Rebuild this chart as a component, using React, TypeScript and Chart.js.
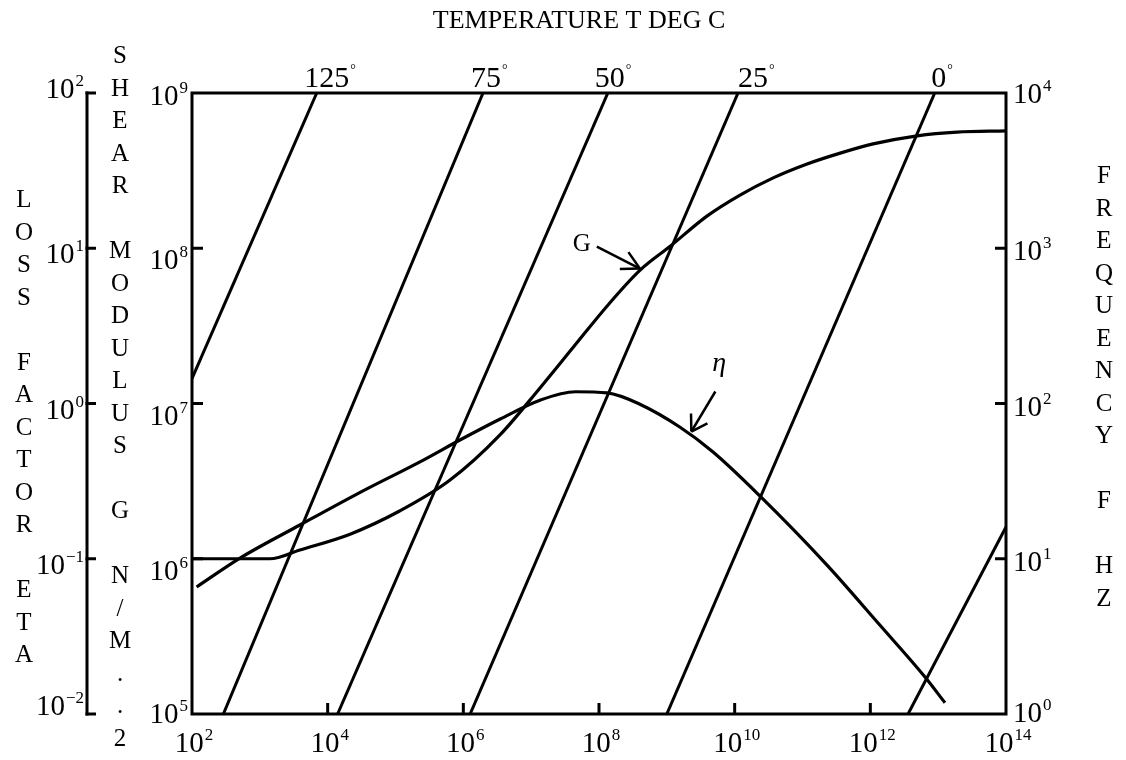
import React, { useEffect, useRef } from 'react';
import { Chart, registerables } from 'chart.js';

Chart.register(...registerables);

// ---- axis ticks (decades) ----
const X_TICKS = [1e2, 1e4, 1e6, 1e8, 1e10, 1e12, 1e14];
const X_TICK_EXP = ['2', '4', '6', '8', '10', '12', '14'];
const G_TICKS = [1e5, 1e6, 1e7, 1e8, 1e9];
const G_TICK_EXP = ['5', '6', '7', '8', '9'];
const F_TICKS = [1, 10, 100, 1000, 10000];
const F_TICK_EXP = ['0', '1', '2', '3', '4'];
const LOSS_TICKS = [1e-2, 1e-1, 1, 10, 100];
const LOSS_TICK_EXP = ['\u22122', '\u22121', '0', '1', '2'];

// ---- shear modulus G (N/m^2) vs reduced frequency ----
const G_FREQ = [1.0e2, 1.41e3, 3.9e3, 2.14e4, 1.15e5, 6.3e5, 3.5e6, 1.35e7, 4.2e7, 1.32e8, 4.0e8, 1.12e9, 3.9e9, 1.2e10, 3.7e10, 1.17e11, 3.6e11, 1.1e12, 4.9e12, 1.9e13, 1.0e14];
const G_VALUES = [1.0e6, 1.0e6, 1.14e6, 1.44e6, 2.03e6, 3.2e6, 6.3e6, 1.26e7, 2.31e7, 4.25e7, 7.2e7, 1.03e8, 1.61e8, 2.2e8, 2.84e8, 3.49e8, 4.1e8, 4.7e8, 5.3e8, 5.6e8, 5.7e8];

// ---- loss factor eta vs reduced frequency ----
const ETA_FREQ = [1.17e2, 5.1e2, 3.9e3, 2.7e4, 2.57e5, 8.9e5, 3.5e6, 1.35e7, 4.5e7, 1.32e8, 4.0e8, 1.55e9, 4.8e9, 2.35e10, 2.3e11, 1.38e12, 6.4e12, 1.26e13];
const ETA_VALUES = [0.0658, 0.101, 0.165, 0.261, 0.432, 0.582, 0.795, 1.05, 1.19, 1.17, 0.99, 0.706, 0.487, 0.254, 0.091, 0.0374, 0.0173, 0.0118];

// ---- temperature lines: frequency (Hz) vs reduced frequency ----
const TEMP_LABELS = ['125', '75', '50', '25', '0', ''];
const TEMP_FR_LOW = [0.69, 290, 1.4e4, 1.26e6, 1.0e9, 3.6e12];
const TEMP_F_LOW = [1, 1, 1, 1, 1, 1];
const TEMP_FR_HIGH = [6.9e3, 1.95e6, 1.35e8, 1.12e10, 8.9e12, 1.0e14];
const TEMP_F_HIGH = [1e4, 1e4, 1e4, 1e4, 1e4, 16];

// ---- annotation anchors ----
const G_ARROW_TIP = { x: 4.0e8, y: 7.4e7 };
const ETA_ARROW_TIP = { x: 2.3e9, y: 0.66 };

// ---- text ----
const TITLE = 'TEMPERATURE T DEG C';
const LEFT_OUTER_TITLE = 'LOSS FACTOR ETA';
const LEFT_INNER_TITLE = 'SHEAR MODULUS G N/M..2';
const RIGHT_TITLE = 'FREQUENCY F HZ';

// ---- styles ----
const SERIF = "'Liberation Serif', 'Times New Roman', serif";
const TEMP_LABEL_DX = [10, 3, 2, 15, 4, 0];

function drawPow(ctx: CanvasRenderingContext2D, exp: string, x: number, baseline: number, align: 'left' | 'right' | 'center') {
  ctx.font = `29px ${SERIF}`;
  const wMain = ctx.measureText('10').width;
  ctx.font = `17px ${SERIF}`;
  const wExp = ctx.measureText(exp).width;
  const total = wMain + 1 + wExp;
  const x0 = align === 'left' ? x : align === 'right' ? x - total : x - total / 2;
  ctx.textAlign = 'left';
  ctx.textBaseline = 'alphabetic';
  ctx.fillStyle = '#000';
  ctx.font = `29px ${SERIF}`;
  ctx.fillText('10', x0, baseline);
  ctx.font = `17px ${SERIF}`;
  ctx.fillText(exp, x0 + wMain + 1, baseline - 12);
}

function seg(ctx: CanvasRenderingContext2D, x1: number, y1: number, x2: number, y2: number) {
  ctx.beginPath();
  ctx.moveTo(x1, y1);
  ctx.lineTo(x2, y2);
  ctx.stroke();
}

function arrow(ctx: CanvasRenderingContext2D, tx: number, ty: number, fx: number, fy: number, len: number, spread: number) {
  ctx.lineWidth = 2.5;
  seg(ctx, fx, fy, tx, ty);
  const ang = Math.atan2(fy - ty, fx - tx);
  seg(ctx, tx, ty, tx + len * Math.cos(ang + spread), ty + len * Math.sin(ang + spread));
  seg(ctx, tx, ty, tx + len * Math.cos(ang - spread), ty + len * Math.sin(ang - spread));
}

function verticalLetters(ctx: CanvasRenderingContext2D, text: string, x: number, firstCenter: number, step: number) {
  ctx.font = `25px ${SERIF}`;
  ctx.textAlign = 'center';
  ctx.textBaseline = 'alphabetic';
  ctx.fillStyle = '#000';
  text.split('').forEach((ch, i) => {
    if (ch === ' ') return;
    ctx.fillText(ch, x, firstCenter + i * step + 8);
  });
}

const decorPlugin = {
  id: 'nomogramDecor',
  afterDraw(chart: any) {
    const ctx: CanvasRenderingContext2D = chart.ctx;
    const { left, right, top, bottom } = chart.chartArea;
    const sx = chart.scales.x;
    const sg = chart.scales.yG;
    const sf = chart.scales.yF;
    const sl = chart.scales.yLoss;
    ctx.save();
    ctx.strokeStyle = '#000';
    ctx.fillStyle = '#000';
    ctx.lineWidth = 3;
    ctx.lineCap = 'butt';
    ctx.strokeRect(left, top, right - left, bottom - top);

    // inward ticks
    X_TICKS.forEach((v, i) => {
      if (i === 0 || i === X_TICKS.length - 1) return;
      const x = sx.getPixelForValue(v);
      seg(ctx, x, bottom, x, bottom - 11);
    });
    G_TICKS.forEach((v, i) => {
      if (i === 0 || i === G_TICKS.length - 1) return;
      const y = sg.getPixelForValue(v);
      seg(ctx, left, y, left + 11, y);
    });
    F_TICKS.forEach((v, i) => {
      if (i === 0 || i === F_TICKS.length - 1) return;
      const y = sf.getPixelForValue(v);
      seg(ctx, right, y, right - 11, y);
    });

    // loss factor axis
    const lx = 87;
    const ly0 = sl.getPixelForValue(LOSS_TICKS[0]);
    const ly1 = sl.getPixelForValue(LOSS_TICKS[LOSS_TICKS.length - 1]);
    seg(ctx, lx, ly0 + 1.5, lx, ly1 - 1.5);
    LOSS_TICKS.forEach((v) => {
      const y = sl.getPixelForValue(v);
      seg(ctx, lx - 1.5, y, lx + 9, y);
    });

    // tick labels
    X_TICKS.forEach((v, i) => {
      drawPow(ctx, X_TICK_EXP[i], sx.getPixelForValue(v) + 2, 752, 'center');
    });
    G_TICKS.forEach((v, i) => {
      const y = sg.getPixelForValue(v);
      const dy = i === 0 ? 9 : i === G_TICKS.length - 1 ? 12 : 21;
      drawPow(ctx, G_TICK_EXP[i], 188, y + dy, 'right');
    });
    F_TICKS.forEach((v, i) => {
      const y = sf.getPixelForValue(v);
      const dy = i === 0 ? 8 : i === F_TICKS.length - 1 ? 10 : 12;
      drawPow(ctx, F_TICK_EXP[i], 1013, y + dy, 'left');
    });
    LOSS_TICKS.forEach((v, i) => {
      const y = sl.getPixelForValue(v);
      const dy = i === 0 ? 1 : i === LOSS_TICKS.length - 1 ? 5 : 15;
      drawPow(ctx, LOSS_TICK_EXP[i], 84, y + dy, 'right');
    });

    // temperature labels
    TEMP_LABELS.forEach((lab, i) => {
      if (!lab) return;
      const x = sx.getPixelForValue(TEMP_FR_HIGH[i]) + TEMP_LABEL_DX[i];
      ctx.font = `30px ${SERIF}`;
      ctx.textAlign = 'center';
      ctx.textBaseline = 'alphabetic';
      const w = ctx.measureText(lab).width;
      ctx.fillText(lab, x, 87);
      ctx.font = `14px ${SERIF}`;
      ctx.textAlign = 'left';
      ctx.fillText('\u00B0', x + w / 2 + 1, 74);
    });

    // title
    ctx.font = `26px ${SERIF}`;
    ctx.textAlign = 'center';
    ctx.textBaseline = 'alphabetic';
    ctx.fillText(TITLE, 579, 28);

    // vertical axis titles
    verticalLetters(ctx, LEFT_OUTER_TITLE, 24, 199, 32.5);
    verticalLetters(ctx, LEFT_INNER_TITLE, 120, 55, 32.5);
    verticalLetters(ctx, RIGHT_TITLE, 1104, 175, 32.5);

    // G annotation
    const gx = sx.getPixelForValue(G_ARROW_TIP.x);
    const gy = sg.getPixelForValue(G_ARROW_TIP.y);
    ctx.font = `25px ${SERIF}`;
    ctx.textAlign = 'center';
    ctx.fillText('G', gx - 58, gy - 18);
    arrow(ctx, gx, gy, gx - 43, gy - 22, 20, 0.49);

    // eta annotation
    const ex = sx.getPixelForValue(ETA_ARROW_TIP.x);
    const ey = sl.getPixelForValue(ETA_ARROW_TIP.y);
    ctx.font = `italic 28px ${SERIF}`;
    ctx.textAlign = 'left';
    ctx.fillText('\u03B7', ex + 21, ey - 61);
    arrow(ctx, ex, ey, ex + 24, ey - 40, 18, 0.56);

    ctx.restore();
  },
};

export default function App() {
  const canvasRef = useRef<HTMLCanvasElement | null>(null);

  useEffect(() => {
    if (!canvasRef.current) return;
    const lineStyle = {
      showLine: true,
      borderColor: '#000',
      backgroundColor: '#000',
      pointRadius: 0,
      fill: false,
      xAxisID: 'x',
    };
    const datasets: any[] = [];
    TEMP_LABELS.forEach((lab, i) => {
      datasets.push({
        ...lineStyle,
        label: lab ? `${lab}\u00B0` : 'T',
        yAxisID: 'yF',
        borderWidth: 3,
        data: [
          { x: TEMP_FR_LOW[i], y: TEMP_F_LOW[i] },
          { x: TEMP_FR_HIGH[i], y: TEMP_F_HIGH[i] },
        ],
      });
    });
    datasets.push({
      ...lineStyle,
      label: 'G',
      yAxisID: 'yG',
      borderWidth: 3.2,
      cubicInterpolationMode: 'monotone',
      data: G_FREQ.map((x, i) => ({ x, y: G_VALUES[i] })),
    });
    datasets.push({
      ...lineStyle,
      label: 'eta',
      yAxisID: 'yLoss',
      borderWidth: 3.2,
      cubicInterpolationMode: 'monotone',
      data: ETA_FREQ.map((x, i) => ({ x, y: ETA_VALUES[i] })),
    });

    const chart = new Chart(canvasRef.current, {
      type: 'scatter',
      data: { datasets },
      options: {
        animation: false,
        responsive: false,
        maintainAspectRatio: false,
        events: [],
        layout: { padding: { left: 192, top: 93, right: 120, bottom: 46 } },
        plugins: {
          legend: { display: false },
          tooltip: { enabled: false },
          title: { display: false },
        },
        scales: {
          x: { type: 'logarithmic', min: 1e2, max: 1e14, display: false },
          y: { display: false },
          yG: { type: 'logarithmic', min: 1e5, max: 1e9, display: false, position: 'left' },
          yF: { type: 'logarithmic', min: 1, max: 1e4, display: false, position: 'right' },
          yLoss: { type: 'logarithmic', min: 1e-2, max: 1e2, display: false, position: 'left' },
        },
      } as any,
      plugins: [decorPlugin],
    });
    return () => chart.destroy();
  }, []);

  return (
    <div style={{ position: 'absolute', left: 0, top: 0, width: 1126, height: 760, background: '#fff' }}>
      <canvas ref={canvasRef} width={1126} height={760} style={{ display: 'block' }} />
    </div>
  );
}
